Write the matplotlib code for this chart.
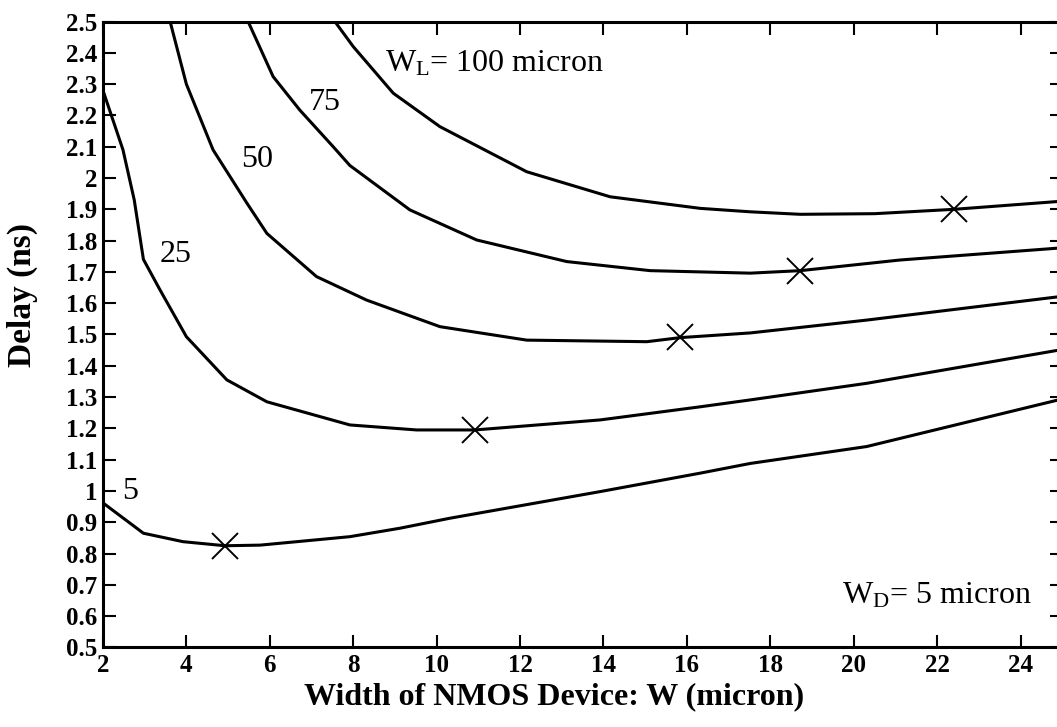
import matplotlib
matplotlib.use("Agg")
import matplotlib.pyplot as plt

plt.rcParams.update({'font.family': 'Liberation Serif',
                     'mathtext.fontset': 'custom',
                     'mathtext.rm': 'Liberation Serif',
                     'mathtext.it': 'Liberation Serif:italic',
                     'mathtext.bf': 'Liberation Serif:bold'})

# delay curves, one per load width W_L (micron)
w5 = [2.0, 2.97, 3.92, 4.93, 5.77, 7.92, 9.12, 10.32, 13.92, 16.32, 17.52, 20.31, 25.0]
d5 = [0.962, 0.865, 0.838, 0.825, 0.827, 0.854, 0.881, 0.913, 0.998, 1.057, 1.088, 1.142, 1.294]

w25 = [2.0, 2.48, 2.75, 2.97, 3.37, 4.0, 4.97, 5.93, 7.92, 9.52, 10.92, 13.92, 16.32, 17.52, 20.31, 25.0]
d25 = [2.28, 2.09, 1.93, 1.74, 1.642, 1.493, 1.355, 1.285, 1.211, 1.195, 1.195, 1.227, 1.269, 1.291, 1.344, 1.452]

w50 = [3.61, 4.0, 4.64, 5.45, 5.93, 7.12, 8.32, 9.52, 10.08, 12.16, 15.04, 15.84, 17.52, 20.31, 25.0]
d50 = [2.5, 2.30, 2.09, 1.92, 1.823, 1.685, 1.61, 1.552, 1.525, 1.482, 1.477, 1.49, 1.505, 1.546, 1.622]

w75 = [5.48, 6.08, 6.72, 7.52, 7.92, 9.36, 10.96, 13.12, 15.12, 17.52, 18.72, 21.11, 25.0]
d75 = [2.5, 2.324, 2.217, 2.10, 2.04, 1.898, 1.802, 1.733, 1.704, 1.696, 1.704, 1.738, 1.777]

w100 = [7.56, 8.0, 8.96, 10.08, 12.16, 14.16, 16.32, 17.52, 18.72, 20.5, 22.41, 25.0]
d100 = [2.5, 2.42, 2.271, 2.164, 2.02, 1.94, 1.903, 1.892, 1.884, 1.886, 1.9, 1.926]

# optimum points (crosses)
opt_w = [4.93, 10.92, 15.84, 18.72, 22.41]
opt_d = [0.825, 1.195, 1.493, 1.704, 1.9]

xticks = list(range(2, 25, 2))
yticks = [0.5, 0.6, 0.7, 0.8, 0.9, 1.0, 1.1, 1.2, 1.3, 1.4, 1.5, 1.6, 1.7, 1.8, 1.9, 2.0, 2.1, 2.2, 2.3, 2.4, 2.5]
ytick_labels = ['0.5', '0.6', '0.7', '0.8', '0.9', '1', '1.1', '1.2', '1.3', '1.4', '1.5', '1.6', '1.7',
                '1.8', '1.9', '2', '2.1', '2.2', '2.3', '2.4', '2.5']

fig = plt.figure(figsize=(10.57, 7.27), dpi=100)
ax = fig.add_axes([0.0974, 0.1094, 0.9076, 0.861])

for w, d in [(w5, d5), (w25, d25), (w50, d50), (w75, d75), (w100, d100)]:
    ax.plot(w, d, color='black', linewidth=2.2, solid_joinstyle='round')
ax.plot(opt_w, opt_d, linestyle='none', marker='x', markersize=19, markeredgewidth=1.4, color='black')

ax.set_xlim(2, 25)
ax.set_ylim(0.5, 2.5)
ax.set_xticks(xticks)
ax.set_xticklabels([str(t) for t in xticks])
ax.set_yticks(yticks)
ax.set_yticklabels(ytick_labels)
ax.tick_params(direction='in', length=9, width=1.5, top=True, right=True, labelsize=18)
ax.tick_params(axis='x', pad=5)
ax.tick_params(axis='y', pad=4)
for lab in ax.get_xticklabels() + ax.get_yticklabels():
    lab.set_fontweight('bold')
for s in ax.spines.values():
    s.set_linewidth(2.2)

ax.set_xlabel('Width of NMOS Device: W (micron)', fontsize=23, fontweight='bold')
ax.set_ylabel('Delay (ns)', fontsize=24, fontweight='bold')
ax.xaxis.set_label_coords(0.47, -0.055)
ax.yaxis.set_label_coords(-0.084, 0.563)
ax.xaxis.label.set_va('top')
ax.yaxis.label.set_va('center')

ax.text(8.76, 2.339, r'W$_{\mathregular{L}}$= 100 micron', fontsize=23, ha='left', va='baseline')
ax.text(7.32, 2.24, '75', fontsize=23, ha='center', va='center')
ax.text(5.69, 2.06, '50', fontsize=23, ha='center', va='center')
ax.text(3.75, 1.757, '25', fontsize=23, ha='center', va='center')
ax.text(2.65, 0.997, '5', fontsize=23, ha='center', va='center')
ax.text(19.71, 0.642, r'W$_{\mathregular{D}}$= 5 micron', fontsize=23, ha='left', va='baseline')

fig.savefig('out.png', dpi=100)
